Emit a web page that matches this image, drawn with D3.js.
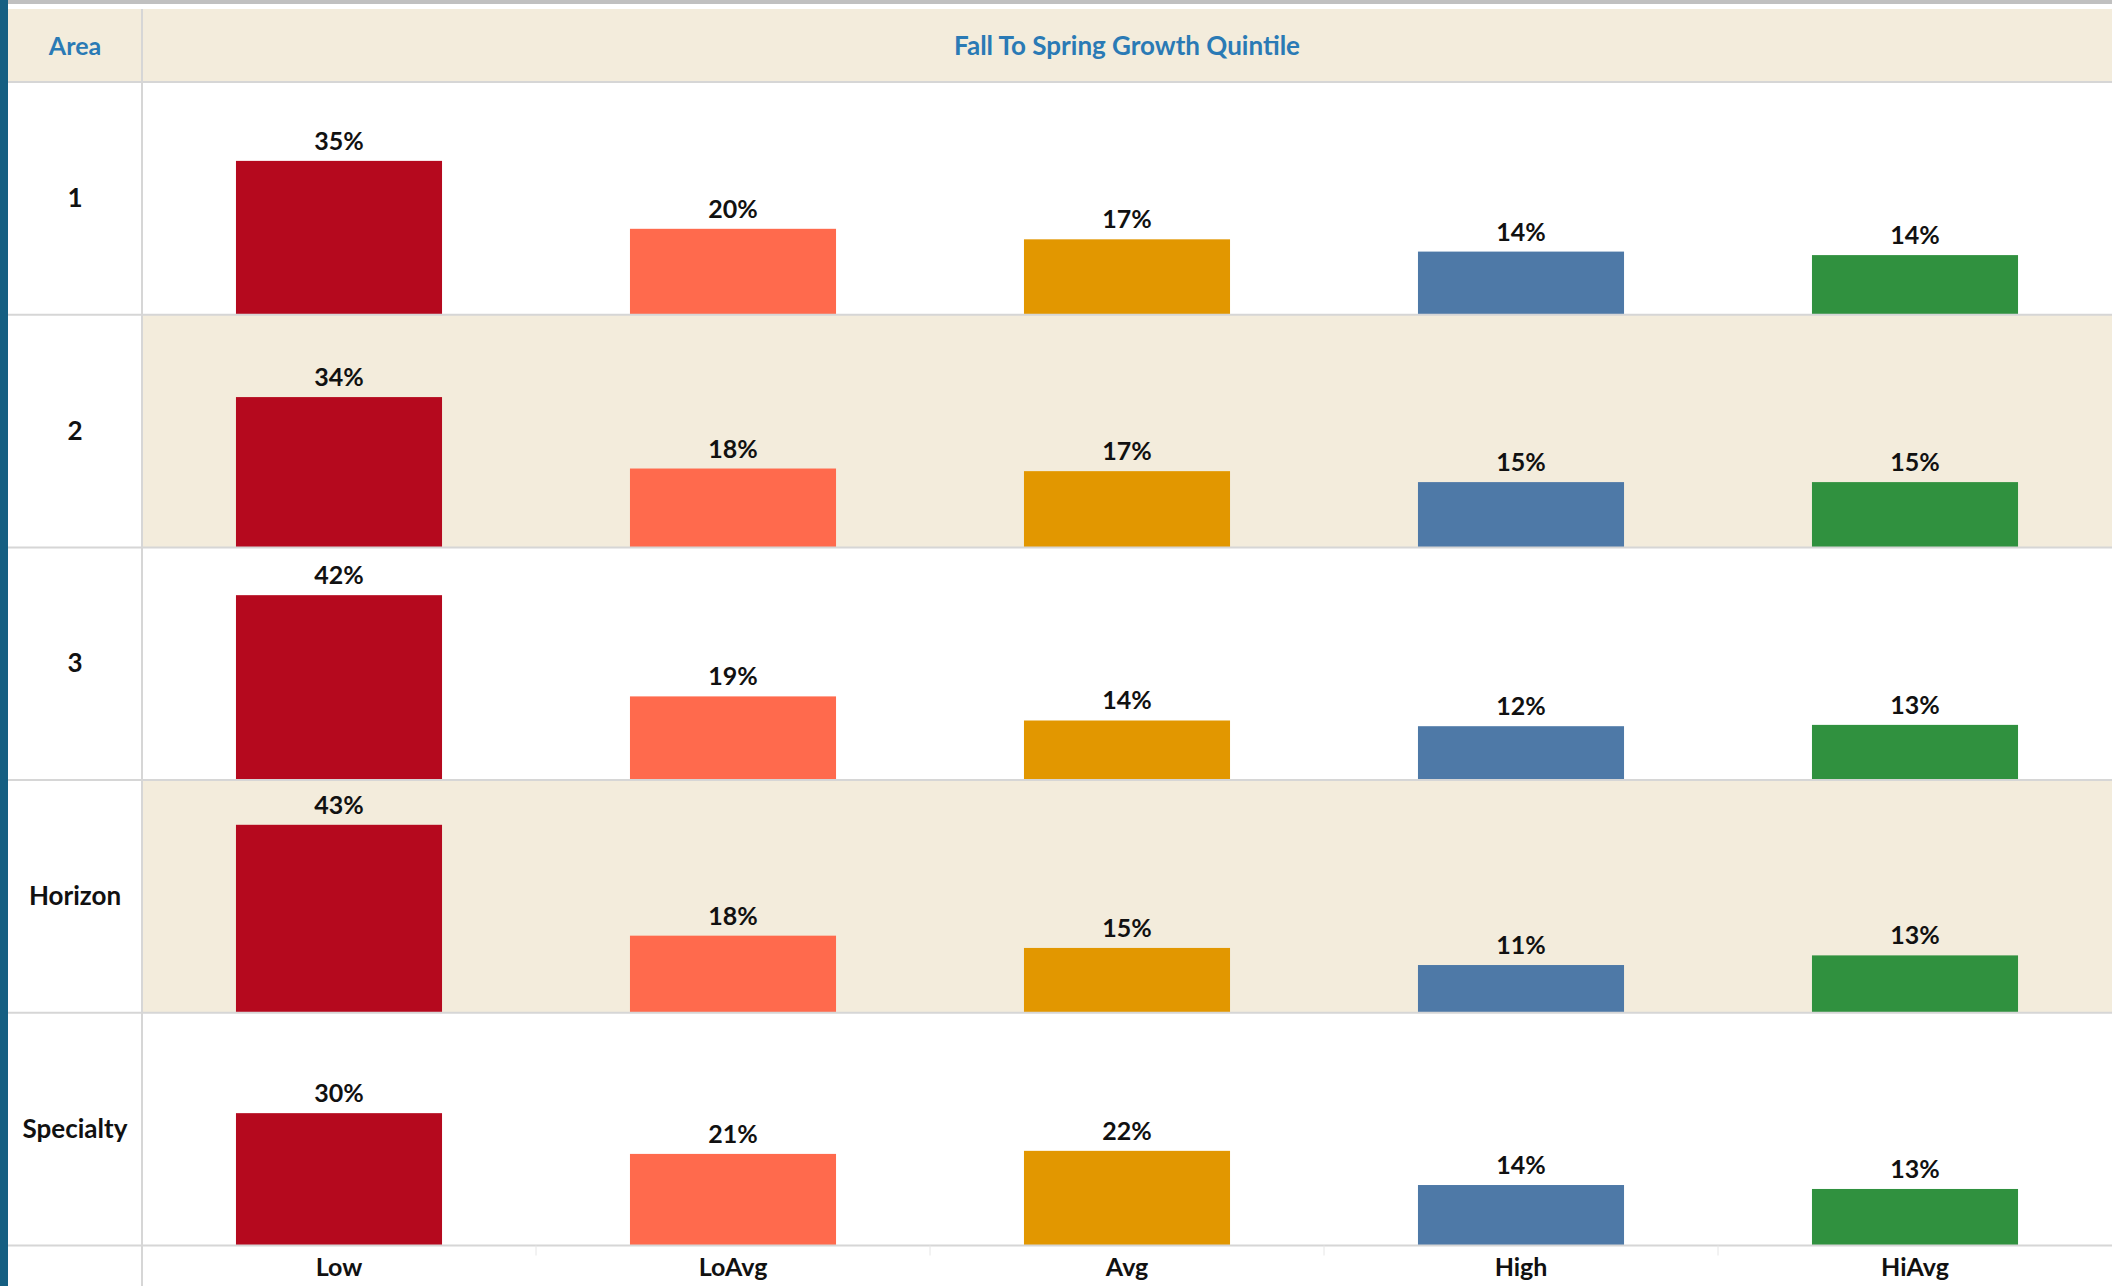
<!DOCTYPE html>
<html lang="en">
<head>
    <meta charset="UTF-8">
    <title>Fall To Spring Growth Quintile</title>
    <script src="https://d3js.org/d3.v7.min.js"></script>
    <style>
        body { margin: 0; background: #fff; overflow: hidden; }
        svg { display: block; }
        text { font-family: Lato, "Open Sans", sans-serif; font-weight: bold; }
    </style>
</head>
<body>
    <svg></svg>
    <script>
        const width = 2112;
        const height = 1286;

        // data
        const areas = ["1", "2", "3", "Horizon", "Specialty"];
        const quintiles = ["Low", "LoAvg", "Avg", "High", "HiAvg"];
        const lowPct = [0.351, 0.343, 0.422, 0.429, 0.302];
        const loAvgPct = [0.196, 0.180, 0.191, 0.176, 0.209];
        const avgPct = [0.172, 0.174, 0.136, 0.148, 0.216];
        const highPct = [0.144, 0.149, 0.123, 0.109, 0.138];
        const hiAvgPct = [0.136, 0.149, 0.126, 0.131, 0.129];
        const colors = ["#b5091e", "#ff6a4d", "#e29700", "#4e79a7", "#30913f"];

        const series = [lowPct, loAvgPct, avgPct, highPct, hiAvgPct];
        const rows = areas.map((a, i) => ({
            area: a,
            bars: quintiles.map((q, j) => ({ q: q, v: series[j][i] }))
        }));

        const headerTop = 9, headerBottom = 82, splitX = 142;
        const rowH = 232.7;

        const svg = d3.select("svg")
            .attr("width", width)
            .attr("height", height);

        const x = d3.scaleBand()
            .domain(quintiles)
            .range([splitX, width])
            .paddingInner(0.477)
            .paddingOuter(0.2385);

        const rowScale = d3.scaleBand()
            .domain(areas)
            .range([headerBottom, headerBottom + rowH * areas.length]);

        const y = d3.scaleLinear()
            .domain([0, 0.531])
            .range([rowH, 0]);

        const color = d3.scaleOrdinal().domain(quintiles).range(colors);
        const fmt = d3.format(".0%");

        // top strip
        svg.append("rect").attr("x", 0).attr("y", 0).attr("width", width).attr("height", 4).attr("fill", "#c0c0c0");

        // header band
        svg.append("rect")
            .attr("x", 0).attr("y", headerTop)
            .attr("width", width).attr("height", headerBottom - headerTop)
            .attr("fill", "#f3ecdc");

        svg.append("text")
            .attr("x", 75).attr("y", (headerTop + headerBottom) / 2 + 3)
            .attr("text-anchor", "middle").attr("dominant-baseline", "middle")
            .attr("fill", "#2a7ab5").attr("font-size", 25)
            .text("Area");

        svg.append("text")
            .attr("x", (splitX + width) / 2).attr("y", (headerTop + headerBottom) / 2 + 3)
            .attr("text-anchor", "middle").attr("dominant-baseline", "middle")
            .attr("fill", "#2a7ab5").attr("font-size", 26)
            .text("Fall To Spring Growth Quintile");

        // row panels
        const row = svg.append("g").selectAll("g")
            .data(rows)
            .join("g")
            .attr("transform", d => `translate(0,${rowScale(d.area)})`);

        row.append("rect")
            .attr("x", splitX).attr("y", 0)
            .attr("width", width - splitX).attr("height", rowH)
            .attr("fill", (d, i) => i % 2 === 1 ? "#f3ecdc" : "#fff");

        row.append("text")
            .attr("x", 75).attr("y", rowH / 2 + 2)
            .attr("text-anchor", "middle").attr("dominant-baseline", "middle")
            .attr("fill", "#111").attr("font-size", 26)
            .text(d => d.area);

        row.selectAll("rect.bar")
            .data(d => d.bars)
            .join("rect")
            .attr("class", "bar")
            .attr("x", d => x(d.q))
            .attr("y", d => y(d.v))
            .attr("width", x.bandwidth())
            .attr("height", d => rowH - y(d.v))
            .attr("fill", d => color(d.q));

        row.selectAll("text.lbl")
            .data(d => d.bars)
            .join("text")
            .attr("class", "lbl")
            .attr("x", d => x(d.q) + x.bandwidth() / 2)
            .attr("y", d => y(d.v) - 11)
            .attr("text-anchor", "middle")
            .attr("fill", "#111").attr("font-size", 25)
            .text(d => fmt(d.v));

        // grid lines
        const bottom = headerBottom + rowH * areas.length;
        svg.append("g").selectAll("line")
            .data([headerBottom].concat(areas.map(a => rowScale(a) + rowH)))
            .join("line")
            .attr("x1", 8).attr("x2", width)
            .attr("y1", d => d).attr("y2", d => d)
            .attr("stroke", "#d6d6d6").attr("stroke-width", 2);

        svg.append("line")
            .attr("x1", splitX).attr("x2", splitX)
            .attr("y1", headerTop).attr("y2", height)
            .attr("stroke", "#d6d6d6").attr("stroke-width", 2);

        // bottom axis
        const axis = svg.append("g")
            .attr("transform", `translate(0,${bottom})`)
            .call(d3.axisBottom(x).tickSize(0).tickPadding(13));
        axis.select(".domain").remove();
        axis.selectAll("text")
            .attr("font-size", 25)
            .attr("fill", "#111")
            .attr("font-family", "Lato, sans-serif")
            .attr("font-weight", "bold");

        axis.selectAll("line.sep")
            .data(quintiles.slice(1))
            .join("line")
            .attr("class", "sep")
            .attr("x1", d => x(d) - x.step() * x.paddingInner() / 2)
            .attr("x2", d => x(d) - x.step() * x.paddingInner() / 2)
            .attr("y1", 0).attr("y2", 10)
            .attr("stroke", "#e6e6e6").attr("stroke-width", 1);

        // left strip
        svg.append("rect").attr("x", 0).attr("y", 0).attr("width", 8).attr("height", height).attr("fill", "#155f82");
    </script>
</body>
</html>
